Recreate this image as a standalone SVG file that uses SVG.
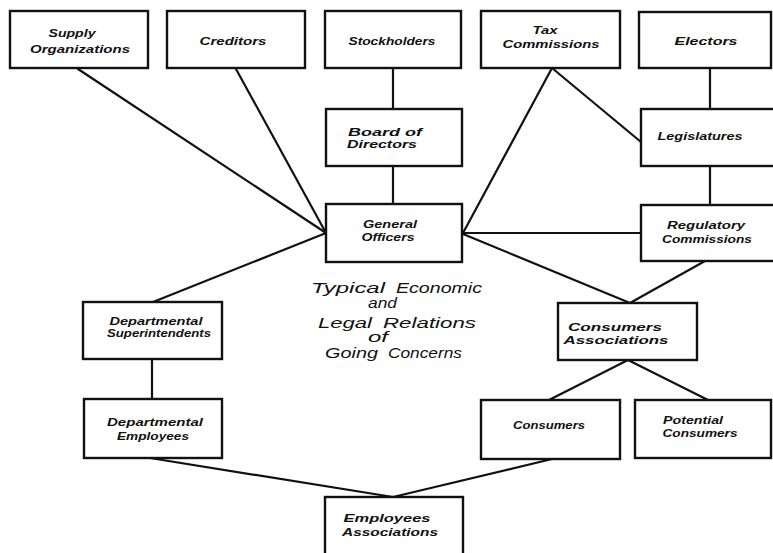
<svg xmlns="http://www.w3.org/2000/svg" width="773" height="553" viewBox="0 0 773 553">
  <style>
    .box { fill: #ffffff; stroke: #111111; stroke-width: 2.4; }
    .link { fill: none; stroke: #111111; stroke-width: 2.2; stroke-linecap: round; }
    .lbl { font-family: "Liberation Sans", Arial, sans-serif; font-style: italic; font-weight: bold; font-size: 10.5px; fill: #111111; text-anchor: middle; }
    .title { font-family: "Liberation Sans", Arial, sans-serif; font-style: italic; font-size: 14.5px; fill: #111111; }
  </style>
  <rect width="773" height="553" fill="#ffffff"/>

  <!-- connectors -->
  <g id="connectors">
    <line class="link" x1="78" y1="69" x2="326" y2="233"/>
    <line class="link" x1="236" y1="69" x2="326" y2="233"/>
    <line class="link" x1="393" y1="68" x2="393" y2="109"/>
    <line class="link" x1="393" y1="166" x2="393" y2="204"/>
    <line class="link" x1="552" y1="68" x2="463" y2="233"/>
    <line class="link" x1="552" y1="68" x2="641" y2="142"/>
    <line class="link" x1="710" y1="68" x2="710" y2="109"/>
    <line class="link" x1="710" y1="166" x2="710" y2="205"/>
    <line class="link" x1="463" y1="233" x2="641" y2="233"/>
    <line class="link" x1="326" y1="233" x2="153" y2="302"/>
    <line class="link" x1="463" y1="234" x2="630" y2="303"/>
    <line class="link" x1="705" y1="261" x2="630" y2="303"/>
    <line class="link" x1="628" y1="360" x2="549" y2="400"/>
    <line class="link" x1="628" y1="360" x2="708" y2="400"/>
    <line class="link" x1="152" y1="359" x2="152" y2="399"/>
    <line class="link" x1="150" y1="458" x2="393" y2="497"/>
    <line class="link" x1="552" y1="459" x2="393" y2="497"/>
  </g>

  <!-- top row -->
  <g id="supply-organizations">
    <rect class="box" x="10" y="11" width="138" height="57"/>
    <text class="lbl" x="72" y="37" textLength="47" lengthAdjust="spacingAndGlyphs">Supply</text>
    <text class="lbl" x="80" y="53" textLength="100" lengthAdjust="spacingAndGlyphs">Organizations</text>
  </g>
  <g id="creditors">
    <rect class="box" x="167" y="11" width="138" height="57"/>
    <text class="lbl" x="233" y="45" textLength="67" lengthAdjust="spacingAndGlyphs">Creditors</text>
  </g>
  <g id="stockholders">
    <rect class="box" x="325" y="11" width="136" height="57"/>
    <text class="lbl" x="392" y="45" textLength="87" lengthAdjust="spacingAndGlyphs">Stockholders</text>
  </g>
  <g id="tax-commissions">
    <rect class="box" x="481" y="11" width="139" height="57"/>
    <text class="lbl" x="545" y="34" textLength="25" lengthAdjust="spacingAndGlyphs">Tax</text>
    <text class="lbl" x="551" y="48" textLength="97" lengthAdjust="spacingAndGlyphs">Commissions</text>
  </g>
  <g id="electors">
    <rect class="box" x="639" y="12" width="132" height="56"/>
    <text class="lbl" x="706" y="45" textLength="63" lengthAdjust="spacingAndGlyphs">Electors</text>
  </g>

  <!-- second row -->
  <g id="board-of-directors">
    <rect class="box" x="326" y="109" width="136" height="57"/>
    <text class="lbl" x="385" y="136" textLength="74" lengthAdjust="spacingAndGlyphs">Board  of</text>
    <text class="lbl" x="382" y="148" textLength="70" lengthAdjust="spacingAndGlyphs">Directors</text>
  </g>
  <g id="legislatures">
    <rect class="box" x="641" y="109" width="140" height="57"/>
    <text class="lbl" x="700" y="140" textLength="85" lengthAdjust="spacingAndGlyphs">Legislatures</text>
  </g>

  <!-- third row -->
  <g id="general-officers">
    <rect class="box" x="326" y="204" width="136" height="58"/>
    <text class="lbl" x="390" y="228" textLength="54" lengthAdjust="spacingAndGlyphs">General</text>
    <text class="lbl" x="388" y="241" textLength="53" lengthAdjust="spacingAndGlyphs">Officers</text>
  </g>
  <g id="regulatory-commissions">
    <rect class="box" x="641" y="205" width="140" height="56"/>
    <text class="lbl" x="706" y="229" textLength="78" lengthAdjust="spacingAndGlyphs">Regulatory</text>
    <text class="lbl" x="707" y="243" textLength="90" lengthAdjust="spacingAndGlyphs">Commissions</text>
  </g>

  <!-- lower left -->
  <g id="departmental-superintendents">
    <rect class="box" x="83" y="302" width="139" height="57"/>
    <text class="lbl" x="156" y="325" textLength="93" lengthAdjust="spacingAndGlyphs">Departmental</text>
    <text class="lbl" x="159" y="337" textLength="104" lengthAdjust="spacingAndGlyphs">Superintendents</text>
  </g>
  <g id="departmental-employees">
    <rect class="box" x="84" y="399" width="138" height="59"/>
    <text class="lbl" x="155" y="426" textLength="96" lengthAdjust="spacingAndGlyphs">Departmental</text>
    <text class="lbl" x="153" y="440" textLength="72" lengthAdjust="spacingAndGlyphs">Employees</text>
  </g>

  <!-- lower right -->
  <g id="consumers-associations">
    <rect class="box" x="558" y="303" width="139" height="57"/>
    <text class="lbl" x="615" y="331" textLength="94" lengthAdjust="spacingAndGlyphs">Consumers</text>
    <text class="lbl" x="616" y="344" textLength="105" lengthAdjust="spacingAndGlyphs">Associations</text>
  </g>
  <g id="consumers">
    <rect class="box" x="481" y="400" width="139" height="59"/>
    <text class="lbl" x="549" y="429" textLength="72" lengthAdjust="spacingAndGlyphs">Consumers</text>
  </g>
  <g id="potential-consumers">
    <rect class="box" x="635" y="400" width="136" height="58"/>
    <text class="lbl" x="693" y="424" textLength="60" lengthAdjust="spacingAndGlyphs">Potential</text>
    <text class="lbl" x="700" y="437" textLength="75" lengthAdjust="spacingAndGlyphs">Consumers</text>
  </g>

  <!-- bottom -->
  <g id="employees-associations">
    <rect class="box" x="325" y="497" width="138" height="64"/>
    <text class="lbl" x="387" y="522" textLength="87" lengthAdjust="spacingAndGlyphs">Employees</text>
    <text class="lbl" x="390" y="536" textLength="96" lengthAdjust="spacingAndGlyphs">Associations</text>
  </g>

  <!-- caption in the middle -->
  <g id="caption">
    <text class="title" x="311" y="293" textLength="74" lengthAdjust="spacingAndGlyphs">Typical</text>
    <text class="title" x="396" y="293" textLength="86" lengthAdjust="spacingAndGlyphs">Economic</text>
    <text class="title" x="368" y="308" textLength="29" lengthAdjust="spacingAndGlyphs">and</text>
    <text class="title" x="318" y="328" textLength="54" lengthAdjust="spacingAndGlyphs">Legal</text>
    <text class="title" x="383" y="328" textLength="93" lengthAdjust="spacingAndGlyphs">Relations</text>
    <text class="title" x="368" y="342" textLength="20" lengthAdjust="spacingAndGlyphs">of</text>
    <text class="title" x="325" y="358" textLength="53" lengthAdjust="spacingAndGlyphs">Going</text>
    <text class="title" x="388" y="358" textLength="74" lengthAdjust="spacingAndGlyphs">Concerns</text>
  </g>
</svg>
